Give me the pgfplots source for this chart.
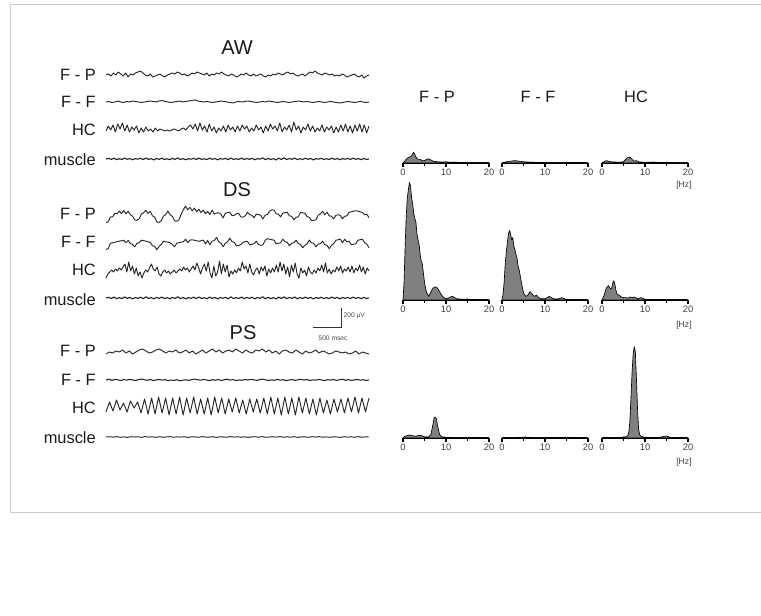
\documentclass[border=0pt]{standalone}
\usepackage{fontspec}
\setmainfont{Liberation Sans}
\usepackage{pgfplots}
\pgfplotsset{compat=1.18}
\newcommand\px[2]{({(#1)*0.75pt},{-(#2)*0.75pt})}
\pgfplotsset{
  trace/.style={hide axis, scale only axis, width=197.25pt, height=30pt,
    anchor=west, ymin=-20, ymax=20, enlarge x limits=false, clip=false},
  tr/.style={black!85, line width=0.7pt, line join=round, no marks},
  spec/.style={scale only axis, width=64.5pt, height=90pt, anchor=south west,
    xmin=0, xmax=20, ymin=0, ymax=1, axis y line=none, axis x line=bottom,
    x axis line style={-, line width=1.1pt, black},
    xtick={0,10,20}, minor xtick={5,15}, tick align=outside,
    major tick length=3pt, minor tick length=2pt,
    every tick/.style={black, line width=0.9pt},
    /pgf/number format/assume math mode=true,
    xticklabel style={font=\fontsize{7}{8}\selectfont, text=black!75, inner sep=1pt},
    clip=false},
  sp/.style={draw=black, line width=0.5pt, fill=black!50, line join=round, no marks},
}
\newcommand\lab[2]{\node[anchor=east, inner sep=0pt, text=black!90, font=\fontsize{12.3}{13}\selectfont] at \px{96}{#1} {#2};}
\begin{document}
\begin{tikzpicture}
\useasboundingbox \px{0}{0} rectangle \px{761}{616};
\draw[black!20, line width=0.75pt] \px{762}{5} -- \px{10}{5} -- \px{10}{513} -- \px{762}{513};

% ---------- titles and labels ----------
\node[font=\fontsize{15}{16}\selectfont, text=black!90] at \px{237}{48} {AW};
\node[font=\fontsize{15}{16}\selectfont, text=black!90] at \px{237}{190} {DS};
\node[font=\fontsize{15}{16}\selectfont, text=black!90] at \px{243}{333} {PS};
\lab{75}{F - P}\lab{102}{F - F}\lab{130}{HC}\lab{160}{muscle}
\lab{214}{F - P}\lab{242}{F - F}\lab{270}{HC}\lab{300}{muscle}
\lab{351}{F - P}\lab{380}{F - F}\lab{408}{HC}\lab{438}{muscle}

\node[font=\fontsize{12.3}{13}\selectfont, text=black!90] at \px{437}{97} {F - P};
\node[font=\fontsize{12.3}{13}\selectfont, text=black!90] at \px{538}{97} {F - F};
\node[font=\fontsize{12.3}{13}\selectfont, text=black!90] at \px{636}{97} {HC};
\node[font=\fontsize{6.5}{7}\selectfont, text=black!75] at \px{684}{185} {[Hz]};
\node[font=\fontsize{6.5}{7}\selectfont, text=black!75] at \px{684}{325} {[Hz]};
\node[font=\fontsize{6.5}{7}\selectfont, text=black!75] at \px{684}{462} {[Hz]};

% scale bar
\draw[black!80, line width=0.55pt] \px{313}{327} -- \px{341}{327} -- \px{341}{308};
\node[anchor=west, font=\fontsize{5}{6}\selectfont, text=black!70, inner sep=1pt] at \px{342}{316} {200 µV};
\node[font=\fontsize{5}{6}\selectfont, text=black!70, inner sep=1pt] at \px{333}{338} {500 msec};

% ================= AW traces =================
\begin{axis}[trace, at={(79.5pt,-56.25pt)}]
\addplot[tr] table[row sep=\\, header=false, y index=0, x expr=\coordindex] {0\\1\\-1\\2\\0\\3\\1\\-1\\2\\-2\\1\\0\\2\\3\\4\\2\\0\\-1\\1\\-2\\-1\\0\\1\\-1\\-2\\0\\1\\2\\1\\3\\2\\0\\1\\-1\\0\\2\\1\\3\\2\\1\\0\\2\\-1\\1\\0\\2\\1\\3\\1\\0\\-1\\1\\0\\-2\\-1\\1\\0\\2\\0\\-1\\1\\-1\\0\\1\\-1\\-2\\0\\-1\\1\\0\\2\\1\\0\\2\\3\\1\\2\\0\\-1\\0\\1\\-1\\1\\3\\2\\4\\2\\1\\0\\2\\1\\0\\1\\-1\\0\\-1\\1\\0\\-2\\-1\\0\\1\\-1\\-2\\0\\-3\\-1\\0\\};
\end{axis}
\begin{axis}[trace, at={(79.5pt,-76.5pt)}]
\addplot[tr] table[row sep=\\, header=false, y index=0, x expr=\coordindex] {0\\0.5\\-0.5\\0\\1\\0\\-0.5\\0.5\\0\\1\\0.5\\0\\-0.5\\0\\0.5\\1\\0.5\\0\\1\\1.5\\0.5\\0\\-0.5\\0\\0.5\\1\\0\\0.5\\1\\1.5\\2\\1\\0.5\\0\\0.5\\0\\-0.5\\0\\0.5\\1\\0.5\\0\\-0.5\\-1\\0\\0.5\\0\\0.5\\1\\0.5\\0\\-0.5\\0\\0.5\\0\\1\\0.5\\0\\-0.5\\0\\0.5\\0\\-0.5\\0\\0.5\\1\\0.5\\0\\0.5\\0\\-0.5\\0\\0.5\\0\\-0.5\\0\\0.5\\0\\-0.5\\-1\\-0.5\\0\\0.5\\0\\-0.5\\0\\0.5\\0\\-0.5\\0\\};
\end{axis}
\begin{axis}[trace, at={(79.5pt,-96.75pt)}]
\addplot[tr] table[row sep=\\, header=false, y index=0, x expr=\coordindex] {-2\\3\\-1\\4\\-3\\5\\0\\6\\-2\\4\\-3\\2\\-1\\3\\-4\\1\\-3\\2\\-2\\0\\-3\\1\\-2\\0\\-1\\-2\\-1\\-2\\-1\\0\\-1\\-2\\0\\1\\-1\\2\\4\\0\\5\\-2\\6\\-1\\3\\-3\\5\\-2\\2\\-4\\1\\-2\\3\\-3\\4\\-1\\2\\-3\\3\\-2\\4\\0\\3\\-3\\1\\-2\\4\\-1\\2\\-4\\3\\-2\\5\\0\\3\\-2\\6\\-3\\2\\-1\\4\\-3\\7\\-1\\3\\-4\\2\\-1\\5\\-2\\3\\-3\\1\\-2\\4\\-3\\2\\-1\\3\\-4\\2\\-3\\4\\-2\\5\\-3\\3\\-4\\4\\-2\\5\\-3\\4\\-4\\3\\};
\end{axis}
\begin{axis}[trace, at={(79.5pt,-119.25pt)}]
\addplot[tr, line width=0.85pt] table[row sep=\\, header=false, y index=0, x expr=\coordindex] {0\\0.6\\-0.4\\0.8\\-0.7\\0.3\\-0.5\\0.9\\-0.3\\0.5\\-0.8\\0.4\\-0.2\\0.7\\-0.6\\1\\-0.4\\0.3\\-0.9\\0.5\\-0.3\\0.8\\-0.5\\0.2\\-0.7\\0.6\\-0.4\\1.1\\-0.6\\0.4\\-0.8\\0.3\\-0.2\\0.7\\-0.5\\0.9\\-0.4\\0.2\\-0.6\\0.8\\-0.3\\0.5\\-0.9\\0.4\\-0.2\\0.6\\-0.7\\1\\-0.5\\0.3\\-0.4\\0.9\\-0.6\\0.5\\-0.3\\0.7\\-0.8\\0.4\\-0.2\\1.2\\-0.7\\0.6\\-0.5\\0.3\\-0.9\\0.8\\-0.4\\1.1\\-0.6\\0.5\\-0.3\\0.9\\-0.7\\0.4\\-0.5\\0.8\\-0.3\\0.6\\-0.9\\0.4\\-0.2\\0.7\\-0.5\\0.3\\-0.6\\0.9\\-0.4\\0.5\\-0.7\\0.3\\-0.2\\0.6\\-0.5\\0.8\\-0.3\\0.4\\-0.6\\0.5\\-0.4\\0\\};
\end{axis}

% ================= DS traces =================
\begin{axis}[trace, at={(79.5pt,-161.25pt)}]
\addplot[tr] table[row sep=\\, header=false, y index=0, x expr=\coordindex] {-7.5\\-6.8\\-2\\-1.8\\1.6\\1.2\\3.9\\1.4\\4.6\\1.2\\3.8\\0.3\\-1.2\\-4.9\\-5.4\\-3.7\\0.9\\2.2\\4.8\\1.5\\3.7\\-0.8\\-2.2\\-6.9\\-7.4\\-5.8\\-1.1\\0.4\\3.9\\0.2\\-1.3\\-5.6\\-6.3\\-4.9\\0.8\\5.4\\8.8\\5.2\\7.6\\4.1\\6.9\\3.3\\5.7\\2.4\\4.9\\1.3\\3.6\\0.4\\4.8\\1.1\\1.9\\2.2\\0.7\\-2.8\\1.8\\2.4\\2.9\\-0.7\\-0.3\\1.2\\1.8\\-1.9\\-2.2\\-0.8\\2.7\\0.3\\-0.2\\-2.8\\0.9\\0.3\\-0.3\\-3.9\\-0.2\\0.4\\3.8\\5.2\\4.9\\1.2\\0.8\\-1.9\\1.9\\2.2\\2.8\\-0.9\\-1.2\\-4.8\\-2.3\\-1.9\\2.7\\2.1\\1.8\\-1.7\\-2.3\\-5.8\\-5.2\\-4.9\\-0.3\\1.2\\3.8\\0.2\\2.9\\-0.8\\-1.2\\-3.9\\-0.3\\0.2\\-0.3\\-3.8\\-1.2\\-0.9\\2.8\\3.1\\3.9\\4.2\\3.8\\3.1\\2.7\\0.2\\0.8\\-2.6\\};
\end{axis}
\begin{axis}[trace, at={(79.5pt,-182.25pt)}]
\addplot[tr] table[row sep=\\, header=false, y index=0, x expr=\coordindex] {-6.4\\-5.7\\-0.3\\0.2\\0.8\\1.3\\1.9\\2.2\\2.8\\0.3\\2.7\\-0.6\\-1.3\\-3.8\\-0.4\\0.3\\2.8\\2.3\\1.9\\1.2\\0.8\\-2.7\\-3.3\\-6.8\\-3.4\\-1.7\\1.8\\1.2\\0.9\\0.2\\-1.3\\-3.8\\-0.2\\0.3\\0.9\\1.2\\3.8\\0.3\\2.9\\3.2\\2.8\\2.2\\1.7\\2.3\\2.9\\-0.8\\2.6\\-1.8\\1.9\\2.3\\5.6\\1.2\\-0.2\\-3.7\\-0.3\\1.2\\4.8\\1.3\\0.7\\-2.8\\-2.4\\-1.7\\0.8\\1.3\\1.7\\-1.8\\-1.3\\-0.7\\1.8\\-1.6\\-2.3\\-1.8\\2.7\\4.3\\3.8\\3.2\\2.9\\-0.8\\-0.3\\0.2\\3.8\\1.3\\0.7\\-2.8\\-0.2\\0.3\\2.8\\-0.7\\-1.3\\-4.8\\-2.2\\-0.8\\2.9\\0.2\\-0.3\\-3.8\\-1.2\\-0.7\\1.8\\-1.8\\-2.3\\-5.7\\-2.3\\-0.8\\2.8\\3.2\\3.9\\0.2\\3.7\\1.3\\1.8\\-1.7\\-1.2\\-0.8\\2.7\\3.3\\3.8\\0.3\\-1.2\\-4.7\\};
\end{axis}
\begin{axis}[trace, at={(79.5pt,-202.5pt)}]
\addplot[tr] table[row sep=\\, header=false, y index=0, x expr=\coordindex] {-8\\-4\\-2\\0\\-2\\1\\-1\\2\\0\\3\\6\\-2\\8\\-1\\4\\-4\\2\\-6\\-2\\-8\\-3\\0\\-2\\2\\6\\1\\-1\\3\\-4\\-6\\-2\\0\\-3\\-1\\-4\\-2\\0\\-3\\-1\\1\\-1\\3\\0\\2\\-2\\1\\4\\0\\7\\2\\-4\\2\\6\\-1\\8\\-3\\-8\\4\\-6\\-2\\9\\-4\\6\\-2\\5\\-7\\-1\\-4\\0\\-3\\2\\-1\\8\\1\\4\\-3\\6\\-2\\-5\\0\\2\\-4\\3\\-1\\4\\-6\\1\\-3\\2\\-2\\5\\-2\\8\\-1\\6\\-4\\3\\-7\\5\\-2\\7\\-4\\-8\\2\\-3\\0\\-6\\3\\-2\\-4\\0\\-3\\2\\-1\\5\\-2\\7\\-3\\1\\-4\\0\\-2\\3\\-1\\4\\-3\\1\\-1\\3\\-2\\4\\-3\\2\\-1\\5\\-2\\3\\-4\\2\\-1\\};
\end{axis}
\begin{axis}[trace, at={(79.5pt,-223.5pt)}]
\addplot[tr, line width=0.85pt] table[row sep=\\, header=false, y index=0, x expr=\coordindex] {0\\0.7\\-0.5\\0.9\\-0.8\\0.4\\-0.6\\1\\-0.4\\0.6\\-0.9\\0.5\\-0.3\\0.8\\-0.7\\1.1\\-0.5\\0.4\\-1\\0.6\\-0.4\\0.9\\-0.6\\0.3\\-0.8\\0.7\\-0.5\\1.2\\-0.7\\0.5\\-0.9\\0.4\\-0.3\\0.8\\-0.6\\1\\-0.5\\0.3\\-0.7\\0.9\\-0.4\\0.6\\-1\\0.5\\-0.3\\0.7\\-0.8\\1.1\\-0.6\\0.4\\-0.5\\1\\-0.7\\0.6\\-0.4\\0.8\\-0.9\\0.5\\-0.3\\1.2\\-0.8\\0.7\\-0.6\\0.4\\-1\\0.9\\-0.5\\1.1\\-0.7\\0.6\\-0.4\\1\\-0.8\\0.5\\-0.6\\0.9\\-0.4\\0.7\\-1\\0.5\\-0.3\\0.8\\-0.6\\0.4\\-0.7\\1\\-0.5\\0.6\\-0.8\\0.4\\-0.3\\0.7\\-0.6\\0.9\\-0.4\\0.5\\-0.7\\0.6\\-0.5\\0\\};
\end{axis}

% ================= PS traces =================
\begin{axis}[trace, at={(79.5pt,-264pt)}]
\addplot[tr] table[row sep=\\, header=false, y index=0, x expr=\coordindex] {-2\\0\\-1\\1\\0\\2\\-1\\1\\-2\\0\\2\\3\\1\\-1\\0\\2\\3\\1\\-1\\1\\0\\2\\-1\\0\\2\\-1\\1\\-2\\0\\2\\-1\\1\\3\\0\\2\\-1\\1\\2\\0\\3\\1\\-1\\2\\0\\-1\\2\\1\\3\\0\\2\\-1\\1\\-2\\1\\2\\0\\-1\\2\\0\\-2\\1\\-1\\0\\2\\-1\\1\\0\\-2\\-1\\1\\0\\-1\\0\\-2\\-1\\1\\-2\\0\\-1\\-2\\};
\end{axis}
\begin{axis}[trace, at={(79.5pt,-285pt)}]
\addplot[tr, line width=0.8pt] table[row sep=\\, header=false, y index=0, x expr=\coordindex] {0\\0.8\\-0.4\\0.6\\0.2\\-0.6\\0.5\\-0.2\\0.7\\0\\-0.5\\0.4\\0.9\\0.2\\-0.3\\0.5\\-0.6\\0.1\\0.6\\-0.2\\0.4\\-0.7\\0\\-0.4\\0.3\\-0.8\\-0.2\\0.2\\-0.5\\0.4\\0.9\\0.3\\-0.2\\0.6\\0\\-0.6\\0.3\\-0.3\\0.5\\-0.5\\0.2\\0.8\\-0.1\\0.4\\-0.6\\0.1\\-0.3\\0.5\\0\\0.7\\0.2\\-0.4\\0.3\\0.9\\0.1\\-0.5\\0.2\\-0.3\\0.6\\-0.2\\0.3\\-0.7\\0\\0.4\\-0.4\\0.2\\0.7\\-0.1\\0.5\\-0.5\\0.2\\-0.2\\0.6\\0\\-0.6\\0.3\\-0.1\\0.5\\-0.4\\0.2\\0.8\\-0.3\\0.4\\-0.5\\0.1\\0.6\\-0.2\\0.3\\-0.4\\0\\};
\end{axis}
\begin{axis}[trace, at={(79.5pt,-304.5pt)}]
\addplot[tr] table[row sep=\\, header=false, y index=0, x expr=\coordindex] {-6\\4\\-5\\6\\-4\\3\\-6\\5\\-2\\4\\-7\\7\\-8\\8\\-8\\9\\-7\\8\\-9\\8\\-8\\9\\-9\\8\\-7\\9\\-8\\7\\-8\\8\\-9\\9\\-7\\8\\-8\\7\\-6\\8\\-7\\6\\-8\\7\\-6\\7\\-7\\8\\-8\\9\\-8\\8\\-9\\9\\-8\\8\\-9\\9\\-7\\8\\-8\\7\\-9\\8\\-7\\6\\-8\\7\\-6\\7\\-7\\8\\-6\\9\\-7\\8\\-6\\8\\};
\end{axis}
\begin{axis}[trace, at={(79.5pt,-327.75pt)}]
\addplot[tr] table[row sep=\\, header=false, y index=0, x expr=\coordindex] {0\\0.3\\-0.2\\0.4\\-0.3\\0.1\\-0.4\\0.3\\0\\0.2\\-0.3\\0.4\\-0.1\\0.2\\-0.4\\0.3\\-0.2\\0.1\\0.4\\-0.3\\0.2\\-0.1\\0.3\\-0.4\\0.1\\0.2\\-0.3\\0.4\\0\\-0.2\\0.3\\-0.4\\0.2\\0.1\\-0.3\\0.4\\-0.1\\0.3\\-0.2\\0.2\\-0.4\\0.1\\0.3\\-0.2\\0.4\\-0.3\\0\\0.2\\-0.1\\0.4\\-0.3\\0.2\\-0.2\\0.3\\-0.4\\0.1\\0.2\\-0.3\\0.3\\-0.1\\0.4\\-0.2\\0.1\\-0.3\\0.2\\0\\-0.4\\0.3\\-0.1\\0.2\\-0.3\\0.4\\-0.2\\0.1\\0\\};
\end{axis}

% ================= spectra: AW =================
\begin{axis}[spec, at={(302.25pt,-122.25pt)}]
\addplot[sp] coordinates {(0,0)(0.5,0.02)(1,0.04)(1.5,0.05)(2,0.06)(2.5,0.09)(3,0.05)(3.5,0.03)(4,0.03)(4.5,0.02)(5,0.02)(5.5,0.03)(6,0.035)(6.5,0.025)(7,0.015)(8,0.01)(9,0.008)(10,0.01)(11,0.006)(12,0.008)(13,0.005)(14,0.004)(15,0.004)(16,0.003)(18,0.003)(20,0.002)} \closedcycle;
\end{axis}
\begin{axis}[spec, at={(376.5pt,-122.25pt)}]
\addplot[sp] coordinates {(0,0)(1,0.01)(2,0.015)(3,0.02)(4,0.015)(5,0.01)(6,0.008)(8,0.005)(10,0.004)(12,0.003)(15,0.002)(20,0.001)} \closedcycle;
\end{axis}
\begin{axis}[spec, at={(451.5pt,-122.25pt)}]
\addplot[sp] coordinates {(0,0)(0.5,0.01)(1,0.02)(1.5,0.015)(2,0.01)(3,0.008)(4,0.006)(5,0.01)(5.5,0.03)(6,0.045)(6.5,0.05)(7,0.03)(7.5,0.015)(8,0.02)(8.5,0.01)(9,0.008)(10,0.006)(12,0.008)(13,0.005)(15,0.004)(20,0.002)} \closedcycle;
\end{axis}

% ================= spectra: DS =================
\begin{axis}[spec, at={(302.25pt,-225pt)}]
\addplot[sp] coordinates {(0,0)(0.25,0.15)(0.5,0.45)(0.75,0.7)(1,0.85)(1.25,0.92)(1.5,0.98)(1.75,0.95)(2,0.85)(2.25,0.8)(2.5,0.72)(2.75,0.68)(3,0.65)(3.25,0.55)(3.5,0.5)(3.75,0.46)(4,0.38)(4.25,0.32)(4.5,0.3)(4.75,0.22)(5,0.15)(5.25,0.1)(5.5,0.06)(6,0.03)(6.5,0.07)(7,0.1)(7.5,0.11)(8,0.1)(8.5,0.07)(9,0.04)(9.5,0.02)(10,0.01)(10.5,0.015)(11,0.025)(11.5,0.03)(12,0.02)(12.5,0.01)(13,0.008)(14,0.006)(15,0.008)(16,0.004)(18,0.003)(20,0.002)} \closedcycle;
\end{axis}
\begin{axis}[spec, at={(376.5pt,-225pt)}]
\addplot[sp] coordinates {(0,0)(0.25,0.05)(0.5,0.15)(0.75,0.3)(1,0.4)(1.25,0.48)(1.5,0.55)(1.75,0.58)(2,0.55)(2.25,0.5)(2.5,0.52)(2.75,0.45)(3,0.42)(3.25,0.38)(3.5,0.35)(3.75,0.28)(4,0.25)(4.25,0.2)(4.5,0.15)(4.75,0.1)(5,0.06)(5.5,0.03)(6,0.04)(6.5,0.07)(7,0.05)(7.5,0.03)(8,0.04)(8.5,0.02)(9,0.01)(10,0.01)(10.5,0.02)(11,0.03)(11.5,0.02)(12,0.01)(13,0.008)(13.5,0.015)(14,0.02)(14.5,0.01)(15,0.005)(16,0.003)(20,0.002)} \closedcycle;
\end{axis}
\begin{axis}[spec, at={(451.5pt,-225pt)}]
\addplot[sp] coordinates {(0,0)(0.5,0.04)(1,0.1)(1.5,0.12)(2,0.09)(2.25,0.1)(2.5,0.14)(2.75,0.16)(3,0.13)(3.25,0.08)(3.5,0.05)(4,0.04)(4.5,0.025)(5,0.02)(5.5,0.02)(6,0.015)(6.5,0.025)(7,0.02)(7.5,0.025)(8,0.015)(8.5,0.01)(9,0.02)(9.5,0.015)(10,0.005)(11,0.004)(12,0.003)(15,0.004)(20,0.001)} \closedcycle;
\end{axis}

% ================= spectra: PS =================
\begin{axis}[spec, at={(302.25pt,-328.5pt)}]
\addplot[sp] coordinates {(0,0)(0.5,0.015)(1,0.02)(1.5,0.025)(2,0.02)(2.5,0.018)(3,0.015)(3.5,0.02)(4,0.022)(4.5,0.018)(5,0.01)(5.5,0.008)(6,0.01)(6.5,0.03)(7,0.12)(7.25,0.17)(7.5,0.175)(7.75,0.16)(8,0.11)(8.5,0.03)(9,0.01)(10,0.005)(12,0.003)(15,0.002)(20,0.001)} \closedcycle;
\end{axis}
\begin{axis}[spec, at={(376.5pt,-328.5pt)}]
\addplot[sp] coordinates {(0,0)(3,0.003)(5,0.006)(5.5,0.008)(6,0.004)(10,0.002)(20,0.001)} \closedcycle;
\end{axis}
\begin{axis}[spec, at={(451.5pt,-328.5pt)}]
\addplot[sp] coordinates {(0,0)(2,0.002)(4,0.004)(5,0.008)(5.5,0.01)(6,0.02)(6.25,0.05)(6.5,0.15)(6.75,0.35)(7,0.55)(7.25,0.7)(7.5,0.76)(7.75,0.72)(8,0.5)(8.25,0.25)(8.5,0.08)(8.75,0.03)(9,0.015)(9.5,0.01)(10,0.006)(12,0.004)(13.5,0.006)(14.5,0.015)(15,0.016)(15.5,0.01)(16,0.004)(18,0.002)(20,0.001)} \closedcycle;
\end{axis}
\end{tikzpicture}
\end{document}
